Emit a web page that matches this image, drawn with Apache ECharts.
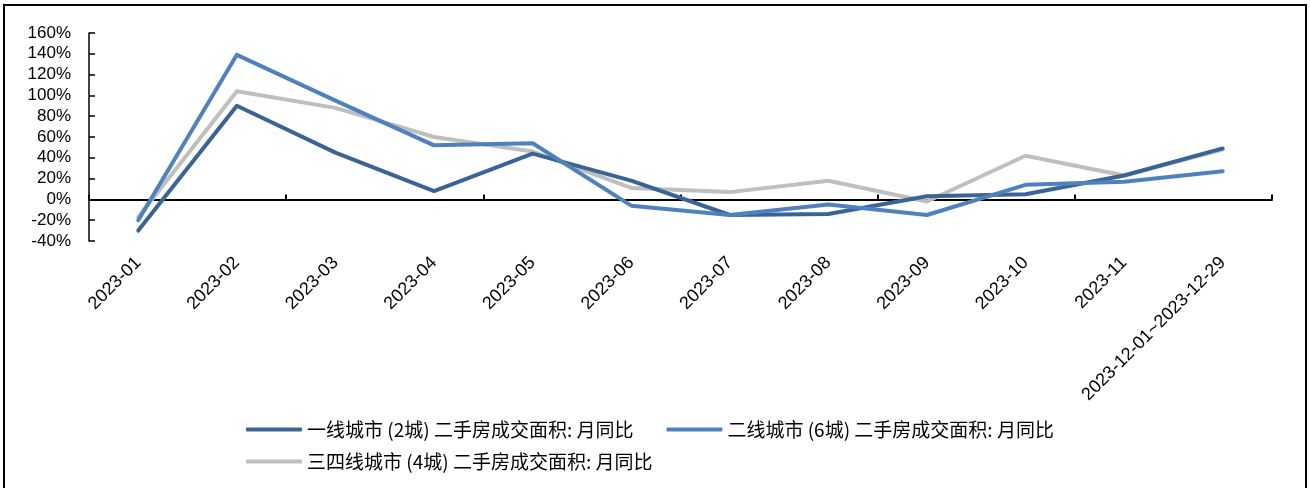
<!DOCTYPE html>
<html>
<head>
<meta charset="utf-8">
<script src="https://cdn.jsdelivr.net/npm/echarts@6/dist/echarts.min.js"></script>
<style>
  html, body { margin: 0; padding: 0; background: #fff; }
  #chart { width: 1310px; height: 488px; }
</style>
</head>
<body>
<div id="chart"></div>
<script>
// Month labels along the x axis
const months = ['2023-01', '2023-02', '2023-03', '2023-04', '2023-05', '2023-06',
  '2023-07', '2023-08', '2023-09', '2023-10', '2023-11', '2023-12-01~2023-12-29'];

// Second-hand housing transaction area, year-on-year change (%)
const tier1 = [-30, 90, 45, 8, 44, 18, -15, -14, 3, 5, 23, 49];
const tier2 = [-20, 139, 95, 52, 54, -6, -15, -5, -15, 14, 17, 27];
const tier34 = [-17, 104, 88, 60, 46, 11, 7, 18, -2, 42, 23, 48];

const seriesNames = [
  '一线城市 (2城) 二手房成交面积: 月同比',
  '二线城市 (6城) 二手房成交面积: 月同比',
  '三四线城市 (4城) 二手房成交面积: 月同比'
];

const latin = '"Liberation Sans", Arial, sans-serif';
const cjk = '"Noto Sans CJK SC", "Liberation Sans", sans-serif';

const chart = echarts.init(document.getElementById('chart'), null, { renderer: 'canvas' });

function line(name, data, color) {
  return {
    name: name,
    type: 'line',
    data: data,
    xAxisIndex: 0,
    symbol: 'none',
    smooth: false,
    lineStyle: { color: color, width: 4, cap: 'round', join: 'round' },
    itemStyle: { color: color },
    z: 3
  };
}

const legendText = { fontFamily: cjk, fontSize: 19, color: '#000' };

chart.setOption({
  animation: false,
  backgroundColor: '#fff',
  grid: { left: 89, right: 38, top: 33, bottom: 247, containLabel: false },
  graphic: [{
    type: 'rect',
    shape: { x: 4, y: 5, width: 1302, height: 500 },
    style: { fill: 'none', stroke: '#000', lineWidth: 2 },
    silent: true
  }],
  legend: [{
    data: [seriesNames[0], seriesNames[1]],
    left: 246, top: 420, padding: 0,
    itemWidth: 56, itemHeight: 4, itemGap: 33,
    icon: 'roundRect',
    textStyle: legendText
  }, {
    data: [seriesNames[2]],
    left: 246, top: 452, padding: 0,
    itemWidth: 56, itemHeight: 4,
    icon: 'roundRect',
    textStyle: legendText
  }],
  xAxis: [{
    // axis line at zero with tick marks
    type: 'category',
    data: months,
    boundaryGap: true,
    position: 'bottom',
    axisLine: { onZero: true, lineStyle: { color: '#000', width: 2 } },
    axisTick: { show: true, inside: true, length: 5, lineStyle: { color: '#000', width: 2 } },
    axisLabel: { show: false },
    splitLine: { show: false }
  }, {
    // category labels along the bottom edge of the plot
    type: 'category',
    data: months,
    boundaryGap: true,
    position: 'bottom',
    axisLine: { show: false, onZero: false },
    axisTick: { show: false },
    axisLabel: {
      rotate: 45, margin: 19, interval: 0,
      fontFamily: latin, fontSize: 18, color: '#000'
    },
    splitLine: { show: false }
  }],
  yAxis: {
    type: 'value',
    min: -40, max: 160, interval: 20,
    axisLine: { show: true, lineStyle: { color: '#000', width: 1.5 } },
    axisTick: { show: true, inside: true, length: 6, lineStyle: { color: '#000', width: 1.5 } },
    axisLabel: {
      formatter: '{value}%', margin: 18,
      fontFamily: latin, fontSize: 17, color: '#000'
    },
    splitLine: { show: false }
  },
  series: [
    line(seriesNames[2], tier34, '#BFBFBF'),
    line(seriesNames[0], tier1, '#3A6496'),
    line(seriesNames[1], tier2, '#4F81BD')
  ]
});
</script>
</body>
</html>
